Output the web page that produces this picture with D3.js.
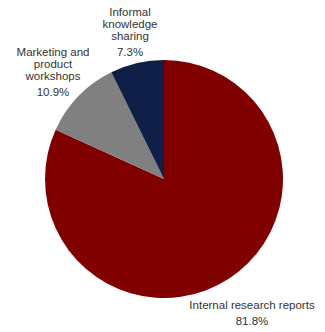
<!DOCTYPE html>
<html><head><meta charset="utf-8">
<script src="https://cdn.jsdelivr.net/npm/d3@7"></script>
<style>body{margin:0;background:#fff}svg{display:block}</style>
</head><body>
<svg id="c" width="325" height="332"></svg>
<script>
const categories = ["Internal research reports", "Marketing and product workshops", "Informal knowledge sharing"];
const values = [81.8, 10.9, 7.3];
const colors = ["#800000", "#808080", "#0f1f47"];
const labelLines = [["Internal research reports"], ["Marketing and", "product", "workshops"], ["Informal", "knowledge", "sharing"]];
const labelPos = [[252, 309], [53, 56], [130, 16]];

const svg = d3.select("#c");
const cx = 164, cy = 179, r = 119;
const pie = d3.pie().sort(null).value(d => d)(values);
const arc = d3.arc().innerRadius(0).outerRadius(r);
const g = svg.append("g").attr("transform", `translate(${cx},${cy})`);
g.selectAll("path").data(pie).join("path")
  .attr("d", arc).attr("fill", (d, i) => colors[i]);

const font = "'Liberation Sans', Arial, sans-serif";
labelLines.forEach((lines, i) => {
  const [x, y] = labelPos[i];
  const t = svg.append("text").attr("text-anchor", "middle")
    .attr("font-family", font).attr("font-size", 11.5).attr("fill", "#333");
  lines.forEach((l, j) => t.append("tspan").attr("x", x).attr("y", y + j * 12).text(l));
  t.append("tspan").attr("x", x).attr("y", y + lines.length * 12 + 4).text(values[i].toFixed(1) + "%");
});
</script>
</body></html>
